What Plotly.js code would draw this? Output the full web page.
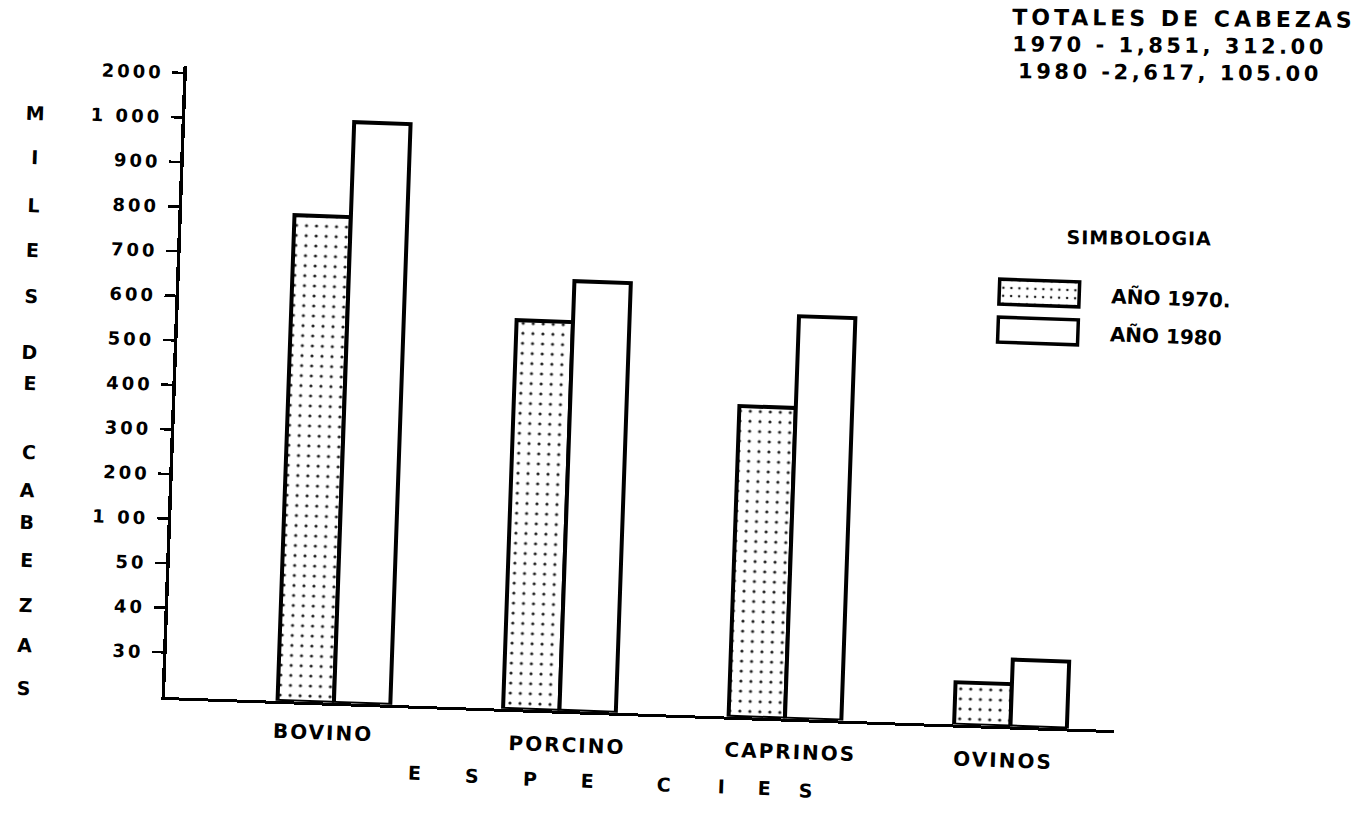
<!DOCTYPE html>
<html>
<head>
<meta charset="utf-8">
<script src="https://cdn.plot.ly/plotly-3.0.1.min.js"></script>
<style>
html, body { margin: 0; padding: 0; background: #fff; overflow: hidden; width: 1359px; height: 827px; }
#chart { position: absolute; left: 0; top: -60px; width: 1359px; height: 947px;
         transform-origin: 165px 757px; transform: rotate(2deg); }
#chart .ytick text { letter-spacing: 3px; }
#chart .annotation-text { letter-spacing: 1px; }
#chart .annotation-text[style*="font-size: 22px"] { letter-spacing: 4px; }
#chart .annotation-text[style*="font-size: 21px"] { letter-spacing: 3.5px; }
#chart .annotation-text[style*="font-size: 20px"] { letter-spacing: 2px; }
#chart .legendpoints path { d: path("M40,12.5H-40V-12.5H40Z"); stroke-width: 3.5px !important; }
</style>
</head>
<body>
<div id="chart"></div>
<script>
// ---- data ----
const categories   = ['BOVINO', 'PORCINO', 'CAPRINOS', 'OVINOS'];
const miles1970    = [790, 572, 397, 28.5];
const miles1980    = [1030, 664, 603, 35];
const seriesNames  = ['AÑO 1970.', 'AÑO 1980'];
// hand-drawn, evenly spaced (non-linear) value scale of the y axis
const scaleValues  = [0, 30, 40, 50, 100, 200, 300, 400, 500, 600, 700, 800, 900, 1000, 2000];
const scaleLabels  = ['', '30', '40', '50', '1 00', '200', '300', '400', '500', '600', '700', '800', '900', '1 000', '2000'];
const totalsTitle  = 'TOTALES DE CABEZAS';
const totalsLines  = ['1970 - 1,851, 312.00', '1980 -2,617, 105.00'];
const legendTitle  = 'SIMBOLOGIA';
const yTitleLetters = ['M','I','L','E','S','D','E','C','A','B','E','Z','A','S'];
const xTitleLetters = ['E','S','P','E','C','I','E','S'];

// ---- layout positions (page pixels of the scanned original) ----
const yTitlePos = [[36,113],[35,157],[34,205],[33,250],[32,296],[30,352],[30,383],
                   [29,452],[28,490],[27,522],[27,560],[26,605],[25,645],[24,688]];
const xTitlePos = [[415,773],[472,776],[530,779],[588,781],[664,784],[722,786],[765,788],[806,790]];
const catLabelPos = [[323,733],[567,745],[790,752],[1003,760]];
const totalsTitlePos = [1184,19];
const totalsPos = [[1170,46],[1170,73]];
const legendTitlePos = [1140,238];
const legendPos = [968, 271];

// the scan is rotated ~2 degrees; the page is rotated the same way around the axis corner
const ROT = 2 * Math.PI / 180, OX = 165, OY = 697, PW = 950, PH = 631;
function toPaper(px, py) {
  const dx = px - OX, dy = py - OY, c = Math.cos(ROT), s = Math.sin(ROT);
  const ux = OX + dx * c + dy * s, uy = OY - dx * s + dy * c;
  return { x: (ux - OX) / PW, y: (OY - uy) / PH };
}

function toIndex(v) {
  for (let i = 0; i < scaleValues.length - 1; i++) {
    if (v <= scaleValues[i + 1]) return i + (v - scaleValues[i]) / (scaleValues[i + 1] - scaleValues[i]);
  }
  return scaleValues.length - 1;
}

const FONT = 'DejaVu Sans';
const tickIdx = scaleValues.map((v, i) => i).slice(1);
const tickTxt = scaleLabels.slice(1);

const traces = [
  {
    type: 'bar', name: seriesNames[0], x: categories, y: miles1970.map(toIndex),
    customdata: miles1970, hovertemplate: '%{x}: %{customdata} mil<extra>1970</extra>',
    legendgroup: 'a',
    marker: { color: 'white', line: { color: 'black', width: 4 },
              pattern: { shape: '.', fgcolor: '#222', bgcolor: 'white', size: 10, solidity: 0.08 } }
  },
  {
    type: 'bar', name: seriesNames[1], x: categories, y: miles1980.map(toIndex),
    customdata: miles1980, hovertemplate: '%{x}: %{customdata} mil<extra>1980</extra>',
    legendgroup: 'b',
    marker: { color: 'white', line: { color: 'black', width: 4 } }
  }
];

const annotations = [];
function addText(text, pos, size, angle) {
  const p = toPaper(pos[0], pos[1]);
  annotations.push({ text: text, xref: 'paper', yref: 'paper', x: p.x, y: p.y,
    xanchor: 'center', yanchor: 'middle', showarrow: false, textangle: angle || 0,
    font: { family: FONT, size: size, color: 'black', weight: 'bold' } });
}
yTitleLetters.forEach((t, i) => addText(t, yTitlePos[i], 19));
xTitleLetters.forEach((t, i) => addText(t, xTitlePos[i], 19));
categories.forEach((t, i) => addText(t, catLabelPos[i], 20));
addText(totalsTitle, totalsTitlePos, 22, -1.5);
totalsLines.forEach((t, i) => addText(t, totalsPos[i], 21, -1.5));
addText(legendTitle, legendTitlePos, 19, -1.5);

const lg = toPaper(legendPos[0], legendPos[1]);

const layout = {
  width: 1359, height: 947,
  margin: { l: 165, r: 244, t: 126, b: 190, pad: 0 },
  paper_bgcolor: 'white', plot_bgcolor: 'white',
  barmode: 'group', bargap: 0.5, bargroupgap: 0,
  font: { family: FONT, color: 'black' },
  xaxis: { type: 'category', range: [-0.749, 3.461], showline: true, linewidth: 3, linecolor: 'black',
           ticks: '', showticklabels: false, showgrid: false, zeroline: false, fixedrange: true },
  yaxis: { range: [0, 14.15], showline: true, linewidth: 3.5, linecolor: 'black',
           tickmode: 'array', tickvals: tickIdx, ticktext: tickTxt,
           ticks: 'outside', ticklen: 11, tickwidth: 2.5, tickcolor: 'black',
           ticklabelstandoff: 5,
           tickfont: { family: FONT, size: 18, color: 'black', weight: 'bold' },
           showgrid: false, zeroline: false, fixedrange: true },
  yaxis2: { overlaying: 'y', anchor: 'x', side: 'left', range: [0, 14.15],
            tickmode: 'array', tickvals: tickIdx, ticks: 'inside', ticklen: 14, tickwidth: 2.5,
            tickcolor: 'black', showticklabels: false, showline: false, showgrid: false, zeroline: false,
            fixedrange: true },
  showlegend: true,
  legend: { x: lg.x, y: lg.y, xanchor: 'left', yanchor: 'top', itemwidth: 134,
            traceorder: 'grouped', tracegroupgap: 9, bgcolor: 'rgba(0,0,0,0)',
            font: { family: FONT, size: 20, color: 'black', weight: 'bold' } },
  annotations: annotations
};

Plotly.newPlot('chart', traces, layout, { displayModeBar: false, staticPlot: true });
</script>
</body>
</html>
